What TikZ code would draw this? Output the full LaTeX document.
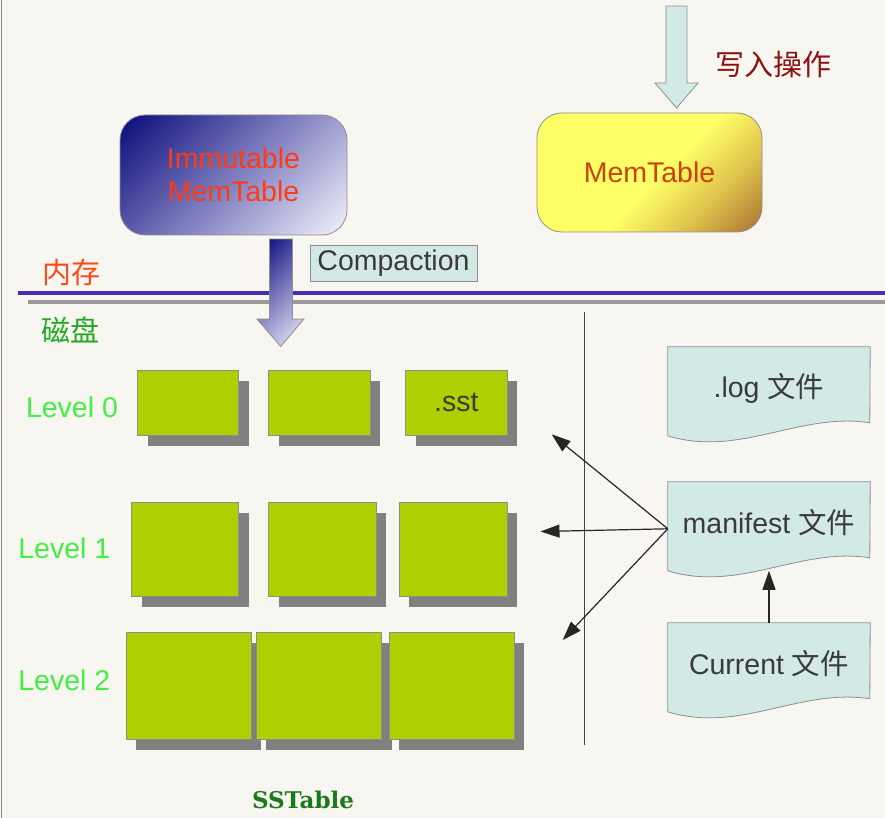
\documentclass[tikz,border=0pt]{standalone}
\usepackage{fontspec}
\newfontfamily\arial{Liberation Sans}
\newfontfamily\cjk{Noto Sans CJK SC}
\newfontfamily\serifb{DejaVu Serif}
\usetikzlibrary{calc,shadows,arrows.meta,backgrounds}
\definecolor{bgc}{HTML}{F7F6F1}
\definecolor{cyanf}{HTML}{D2E9E6}
\definecolor{grayb}{HTML}{8E8E8E}
\definecolor{sstg}{HTML}{AED000}
\definecolor{shadowc}{HTML}{808080}
\definecolor{lvlg}{HTML}{44EE44}
\definecolor{navyc}{HTML}{0E0E7E}
\definecolor{midc}{HTML}{7C7CBE}
\definecolor{lavc}{HTML}{F2F2FC}
\definecolor{yelc}{HTML}{FFFF66}
\definecolor{goldc}{HTML}{DCBE4A}
\definecolor{brnc}{HTML}{A0682C}
\definecolor{memtxt}{HTML}{C8440C}
\definecolor{immtxt}{HTML}{FF3A14}
\definecolor{neicun}{HTML}{FF4A1A}
\definecolor{cipan}{HTML}{22AA22}
\definecolor{xieru}{HTML}{8B1212}
\definecolor{purplec}{HTML}{4B2BB0}
\definecolor{lgray}{HTML}{9A9A9A}
\definecolor{txtg}{HTML}{3A3A3A}
\definecolor{sstab}{HTML}{1A7A1A}
\definecolor{linec}{HTML}{444444}
\pgfdeclarehorizontalshading{immshade}{100bp}{color(0bp)=(navyc); color(16bp)=(navyc); color(50bp)=(midc); color(85bp)=(lavc); color(100bp)=(lavc)}
\pgfdeclarehorizontalshading{memshade}{100bp}{color(0bp)=(yelc); color(53bp)=(yelc); color(70bp)=(goldc); color(87bp)=(brnc); color(100bp)=(brnc)}
\pgfdeclarehorizontalshading{cmpshade}{100bp}{color(0bp)=(navyc); color(18bp)=(navyc); color(50bp)=(midc); color(85bp)=(lavc); color(100bp)=(lavc)}
\begin{document}
\begin{tikzpicture}[x=1pt,y=-1pt,
  bigtxt/.style={font=\arial\fontsize{28.5}{33}\selectfont},
  cjktxt/.style={font=\cjk\fontsize{29}{33}\selectfont},
  rbox/.style={bigtxt, rounded corners=25pt, draw=grayb, line width=0.8pt, shade, align=center, inner sep=0pt},
  sst/.style={fill=sstg, draw=grayb, line width=0.8pt, inner sep=0pt, bigtxt, text=txtg,
    drop shadow={shadow xshift=10pt, shadow yshift=-11pt, fill=shadowc, opacity=1}},
  lvl/.style={bigtxt, text=lvlg, inner sep=0pt},
  docnode/.style={bigtxt, text=txtg, minimum width=202pt, minimum height=82pt, inner sep=0pt},
  docfill/.style={fill=cyanf, draw=grayb, line width=0.8pt},
  conn/.style={draw=black!85, line width=1.2pt, -{Triangle[length=19pt,width=13pt]}}
]
\begin{scope}[on background layer]
  \fill[bgc] (0,0) rectangle (885,818);
\end{scope}
\useasboundingbox (0,0) rectangle (885,818);
\draw[grayb, line width=1.5pt] (1.5,0) -- (1.5,818);

% write arrow into MemTable
\filldraw[fill=cyanf, draw=grayb, line width=0.8pt]
  (666,6) -- (687,6) -- (687,83) -- (698,83) -- (676.5,108) -- (655,83) -- (666,83) -- cycle;
\node[cjktxt, text=xieru, inner sep=0pt] (xr) at (773,64) {写入操作};

% memtables
\node[rbox, shading=immshade, shading angle=-45, text=immtxt, minimum width=227pt, minimum height=120pt] (imm) at (233.5,175) {Immutable\\MemTable};
\node[rbox, shading=memshade, shading angle=-45, text=memtxt, minimum width=225pt, minimum height=119pt] (mem) at (649.5,172.5) {MemTable};

\node[bigtxt, fill=cyanf, draw=grayb, line width=0.8pt, text=txtg, minimum width=167pt, minimum height=36pt, inner sep=0pt] (cmp) at (393.5,263) {Compaction};

% memory / disk separator
\draw[purplec, line width=4pt] (18,293.3) -- (885,293.3);
\draw[lgray, line width=4pt] (28,302) -- (885,302);

% compaction arrow
\shadedraw[shading=cmpshade, shading angle=-45, draw=grayb, line width=0.8pt]
  (269.5,239) -- (292.5,239) -- (292.5,319) -- (304,319) -- (280.7,346.5) -- (257,319) -- (269.5,319) -- cycle;

\node[cjktxt, text=neicun, inner sep=0pt] (nc) at (71.5,273) {内存};
\node[cjktxt, text=cipan, inner sep=0pt] (cp) at (70.5,330) {磁盘};

% divider
\draw[linec, line width=1.3pt] (584.5,312) -- (584.5,745);

% levels
\node[lvl] (lv0) at (72,407) {Level 0};
\node[lvl] (lv1) at (64.3,548) {Level 1};
\node[lvl] (lv2) at (64.3,680) {Level 2};

\node[sst, minimum width=101pt, minimum height=65pt] (l00) at (188,402.5) {};
\node[sst, minimum width=101.4pt, minimum height=65pt] (l01) at (319.3,402.5) {};
\node[sst, minimum width=101.3pt, minimum height=65pt] (l02) at (456.4,402.5) {.sst};

\node[sst, minimum width=107pt, minimum height=94pt] (l10) at (185.2,548.9) {};
\node[sst, minimum width=107.4pt, minimum height=94pt] (l11) at (322.3,548.9) {};
\node[sst, minimum width=108pt, minimum height=94pt] (l12) at (453,548.9) {};

\node[sst, minimum width=125.4pt, minimum height=107pt] (l20) at (188.7,685.5) {};
\node[sst, minimum width=125.4pt, minimum height=107pt] (l21) at (319.1,685.5) {};
\node[sst, minimum width=125pt, minimum height=107pt] (l22) at (451.5,685.5) {};

\node[font=\serifb\bfseries\fontsize{23}{28}\selectfont, text=sstab, inner sep=0pt] (sstl) at (303,800) {SSTable};

% files
\node[docnode] (log) at (769,388) {.log {\cjk 文件}};
\node[docnode] (man) at (769,523) {manifest {\cjk 文件}};
\node[docnode] (cur) at (769,664) {Current {\cjk 文件}};
\begin{scope}[on background layer]
  \foreach \d in {log,man,cur} {
    \filldraw[docfill] (\d.north west) -- (\d.north east) -- ($(\d.north west)+(202,76)$)
      .. controls ($(\d.north west)+(132,65)$) and ($(\d.north west)+(72,111)$) .. ($(\d.north west)+(0,89)$) -- cycle;
  }
\end{scope}

% connectors
\coordinate (mleft) at ($(man.north west)+(0,47)$);
\coordinate (tip0) at (551.7,434.3);
\coordinate (tip1) at (540.5,531.5);
\coordinate (tip2) at (562.7,640);
\draw[conn] (mleft) -- (tip0);
\draw[conn] (mleft) -- (tip1);
\draw[conn] (mleft) -- (tip2);
\draw[conn] (cur.north) -- ($(man.north)+(0,89)$);
\end{tikzpicture}
\end{document}
